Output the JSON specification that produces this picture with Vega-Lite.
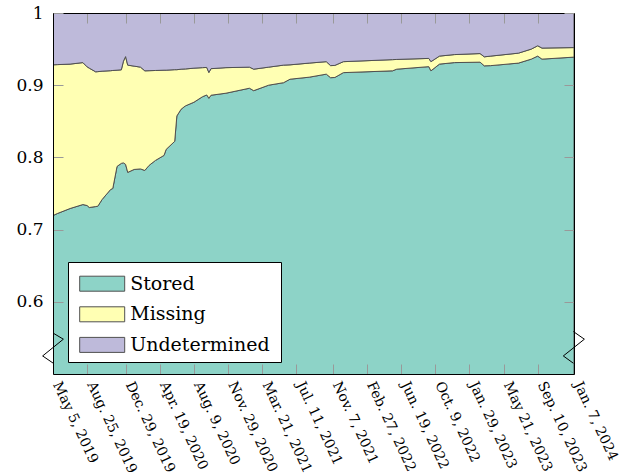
{
  "$schema": "https://vega.github.io/schema/vega-lite/v6.json",
  "width": 521,
  "height": 361,
  "autosize": {"type": "none"},
  "padding": {"left": 53, "top": 13, "right": 48, "bottom": 102},
  "background": "white",
  "config": {"view": {"stroke": null}, "font": "DejaVu Serif", "legend": {"strokeWidth": 1}},
  "data": {
    "values": [
      {"date": "2019-05-05", "Stored": 0.7194, "Missing": 0.2088, "Undetermined": 0.0718},
      {"date": "2019-05-19", "Stored": 0.7222, "Missing": 0.2063, "Undetermined": 0.0715},
      {"date": "2019-06-30", "Stored": 0.7292, "Missing": 0.2000, "Undetermined": 0.0708},
      {"date": "2019-08-11", "Stored": 0.7347, "Missing": 0.1966, "Undetermined": 0.0687},
      {"date": "2019-08-25", "Stored": 0.7333, "Missing": 0.1921, "Undetermined": 0.0746},
      {"date": "2019-09-01", "Stored": 0.7306, "Missing": 0.1930, "Undetermined": 0.0764},
      {"date": "2019-09-22", "Stored": 0.7319, "Missing": 0.1866, "Undetermined": 0.0815},
      {"date": "2019-09-29", "Stored": 0.7324, "Missing": 0.1864, "Undetermined": 0.0812},
      {"date": "2019-10-13", "Stored": 0.7417, "Missing": 0.1777, "Undetermined": 0.0806},
      {"date": "2019-11-10", "Stored": 0.7556, "Missing": 0.1645, "Undetermined": 0.0799},
      {"date": "2019-11-17", "Stored": 0.7569, "Missing": 0.1635, "Undetermined": 0.0796},
      {"date": "2019-12-01", "Stored": 0.7875, "Missing": 0.1333, "Undetermined": 0.0792},
      {"date": "2019-12-15", "Stored": 0.7917, "Missing": 0.1296, "Undetermined": 0.0787},
      {"date": "2019-12-22", "Stored": 0.7924, "Missing": 0.1409, "Undetermined": 0.0667},
      {"date": "2019-12-29", "Stored": 0.7903, "Missing": 0.1493, "Undetermined": 0.0604},
      {"date": "2020-01-05", "Stored": 0.7792, "Missing": 0.1486, "Undetermined": 0.0722},
      {"date": "2020-01-26", "Stored": 0.7833, "Missing": 0.1431, "Undetermined": 0.0736},
      {"date": "2020-02-16", "Stored": 0.7840, "Missing": 0.1410, "Undetermined": 0.0750},
      {"date": "2020-03-01", "Stored": 0.7819, "Missing": 0.1380, "Undetermined": 0.0801},
      {"date": "2020-03-15", "Stored": 0.7889, "Missing": 0.1312, "Undetermined": 0.0799},
      {"date": "2020-04-05", "Stored": 0.7958, "Missing": 0.1246, "Undetermined": 0.0796},
      {"date": "2020-05-03", "Stored": 0.8028, "Missing": 0.1180, "Undetermined": 0.0792},
      {"date": "2020-05-10", "Stored": 0.8111, "Missing": 0.1097, "Undetermined": 0.0792},
      {"date": "2020-06-07", "Stored": 0.8222, "Missing": 0.0993, "Undetermined": 0.0785},
      {"date": "2020-06-14", "Stored": 0.8574, "Missing": 0.0641, "Undetermined": 0.0785},
      {"date": "2020-06-28", "Stored": 0.8667, "Missing": 0.0555, "Undetermined": 0.0778},
      {"date": "2020-07-12", "Stored": 0.8713, "Missing": 0.0512, "Undetermined": 0.0775},
      {"date": "2020-08-09", "Stored": 0.8764, "Missing": 0.0472, "Undetermined": 0.0764},
      {"date": "2020-09-06", "Stored": 0.8840, "Missing": 0.0403, "Undetermined": 0.0757},
      {"date": "2020-09-20", "Stored": 0.8865, "Missing": 0.0381, "Undetermined": 0.0754},
      {"date": "2020-09-27", "Stored": 0.8819, "Missing": 0.0357, "Undetermined": 0.0824},
      {"date": "2020-10-04", "Stored": 0.8861, "Missing": 0.0368, "Undetermined": 0.0771},
      {"date": "2020-11-22", "Stored": 0.8889, "Missing": 0.0354, "Undetermined": 0.0757},
      {"date": "2021-02-07", "Stored": 0.8958, "Missing": 0.0292, "Undetermined": 0.0750},
      {"date": "2021-02-21", "Stored": 0.8924, "Missing": 0.0298, "Undetermined": 0.0778},
      {"date": "2021-04-11", "Stored": 0.9000, "Missing": 0.0250, "Undetermined": 0.0750},
      {"date": "2021-05-30", "Stored": 0.9035, "Missing": 0.0243, "Undetermined": 0.0722},
      {"date": "2021-06-20", "Stored": 0.9083, "Missing": 0.0199, "Undetermined": 0.0718},
      {"date": "2021-08-22", "Stored": 0.9111, "Missing": 0.0195, "Undetermined": 0.0694},
      {"date": "2021-10-17", "Stored": 0.9153, "Missing": 0.0173, "Undetermined": 0.0674},
      {"date": "2021-10-31", "Stored": 0.9104, "Missing": 0.0167, "Undetermined": 0.0729},
      {"date": "2021-11-14", "Stored": 0.9107, "Missing": 0.0167, "Undetermined": 0.0726},
      {"date": "2021-12-12", "Stored": 0.9174, "Missing": 0.0152, "Undetermined": 0.0674},
      {"date": "2022-05-22", "Stored": 0.9199, "Missing": 0.0155, "Undetermined": 0.0646},
      {"date": "2022-06-05", "Stored": 0.9222, "Missing": 0.0135, "Undetermined": 0.0643},
      {"date": "2022-09-18", "Stored": 0.9257, "Missing": 0.0114, "Undetermined": 0.0629},
      {"date": "2022-09-25", "Stored": 0.9199, "Missing": 0.0127, "Undetermined": 0.0674},
      {"date": "2022-10-23", "Stored": 0.9292, "Missing": 0.0111, "Undetermined": 0.0597},
      {"date": "2022-12-11", "Stored": 0.9313, "Missing": 0.0111, "Undetermined": 0.0576},
      {"date": "2023-03-05", "Stored": 0.9319, "Missing": 0.0119, "Undetermined": 0.0562},
      {"date": "2023-03-19", "Stored": 0.9268, "Missing": 0.0125, "Undetermined": 0.0607},
      {"date": "2023-04-09", "Stored": 0.9271, "Missing": 0.0132, "Undetermined": 0.0597},
      {"date": "2023-07-09", "Stored": 0.9306, "Missing": 0.0138, "Undetermined": 0.0556},
      {"date": "2023-08-20", "Stored": 0.9361, "Missing": 0.0139, "Undetermined": 0.0500},
      {"date": "2023-09-10", "Stored": 0.9403, "Missing": 0.0143, "Undetermined": 0.0454},
      {"date": "2023-09-24", "Stored": 0.9361, "Missing": 0.0153, "Undetermined": 0.0486},
      {"date": "2024-01-07", "Stored": 0.9389, "Missing": 0.0132, "Undetermined": 0.0479}
    ]
  },
  "layer": [
    {
      "transform": [
        {"fold": ["Stored", "Missing", "Undetermined"], "as": ["status", "share"]},
        {"calculate": "indexof(['Stored', 'Missing', 'Undetermined'], datum.status)", "as": "stackRank"}
      ],
      "mark": {"type": "area", "clip": true, "stroke": "#505050", "strokeWidth": 1, "opacity": 1, "interpolate": "linear"},
      "encoding": {
        "x": {
          "field": "date", "type": "temporal",
          "scale": {"type": "utc", "domain": [{"year": 2019, "month": "May", "date": 5, "utc": true}, {"year": 2024, "month": "Jan", "date": 7, "utc": true}]},
          "axis": {
            "orient": "bottom", "title": null, "grid": false, "zindex": 1,
            "values": [
              {"year": 2019, "month": "May", "date": 5, "utc": true},
              {"year": 2019, "month": "Aug", "date": 25, "utc": true},
              {"year": 2019, "month": "Dec", "date": 29, "utc": true},
              {"year": 2020, "month": "Apr", "date": 19, "utc": true},
              {"year": 2020, "month": "Aug", "date": 9, "utc": true},
              {"year": 2020, "month": "Nov", "date": 29, "utc": true},
              {"year": 2021, "month": "Mar", "date": 21, "utc": true},
              {"year": 2021, "month": "Jul", "date": 11, "utc": true},
              {"year": 2021, "month": "Nov", "date": 7, "utc": true},
              {"year": 2022, "month": "Feb", "date": 27, "utc": true},
              {"year": 2022, "month": "Jun", "date": 19, "utc": true},
              {"year": 2022, "month": "Oct", "date": 9, "utc": true},
              {"year": 2023, "month": "Jan", "date": 29, "utc": true},
              {"year": 2023, "month": "May", "date": 21, "utc": true},
              {"year": 2023, "month": "Sep", "date": 10, "utc": true},
              {"year": 2024, "month": "Jan", "date": 7, "utc": true}
            ],
            "labelExpr": "utcFormat(datum.value, '%b') + (utcFormat(datum.value, '%b') == 'May' ? ' ' : '. ') + utcFormat(datum.value, '%-d, %Y')",
            "labelAngle": 65, "labelAlign": "left", "labelBaseline": "middle",
            "labelPadding": 18, "labelOffset": 3, "labelFlush": false, "labelOverlap": false, "labelBound": false,
            "labelFont": "DejaVu Serif", "labelFontSize": 14, "labelColor": "black",
            "tickSize": -10, "tickColor": "#999999", "tickWidth": 1,
            "domainColor": "black", "domainWidth": 1
          }
        },
        "y": {
          "field": "share", "type": "quantitative", "stack": "zero",
          "scale": {"domain": [0.5, 1], "nice": false, "zero": false},
          "axis": {
            "orient": "left", "title": null, "grid": false, "zindex": 1,
            "values": [0.6, 0.7, 0.8, 0.9, 1], "format": "~g",
            "labelPadding": 20, "labelFont": "DejaVu Serif", "labelFontSize": 17, "labelColor": "black",
            "tickSize": -10, "tickColor": "#999999", "tickWidth": 1,
            "domainColor": "black", "domainWidth": 1
          }
        },
        "color": {
          "field": "status", "type": "nominal",
          "sort": ["Stored", "Missing", "Undetermined"],
          "scale": {"domain": ["Stored", "Missing", "Undetermined"], "range": ["#8dd3c7", "#ffffb3", "#bebada"]},
          "legend": {
            "title": null, "orient": "none", "legendX": 15, "legendY": 249,
            "fillColor": "white", "strokeColor": "black", "cornerRadius": 0,
            "padding": 6.2, "rowPadding": 4.6,
            "symbolType": "M-0.667,-0.5H2.333V0.5H-0.667Z M12.2,0", "symbolSize": 900,
            "symbolStrokeColor": "#505050", "symbolStrokeWidth": 1, "symbolOpacity": 1,
            "labelOffset": 25, "labelFont": "DejaVu Serif", "labelFontSize": 19, "labelColor": "black",
            "labelLimit": 400
          }
        },
        "order": {"field": "stackRank", "type": "quantitative", "sort": "ascending"}
      }
    },
    {
      "mark": {"type": "point", "opacity": 0},
      "encoding": {
        "x": {
          "field": "date", "type": "temporal",
          "scale": {"type": "utc", "domain": [{"year": 2019, "month": "May", "date": 5, "utc": true}, {"year": 2024, "month": "Jan", "date": 7, "utc": true}]},
          "axis": {
            "orient": "top", "title": null, "grid": false, "labels": false, "zindex": 1,
            "values": [
              {"year": 2019, "month": "May", "date": 5, "utc": true},
              {"year": 2019, "month": "Aug", "date": 25, "utc": true},
              {"year": 2019, "month": "Dec", "date": 29, "utc": true},
              {"year": 2020, "month": "Apr", "date": 19, "utc": true},
              {"year": 2020, "month": "Aug", "date": 9, "utc": true},
              {"year": 2020, "month": "Nov", "date": 29, "utc": true},
              {"year": 2021, "month": "Mar", "date": 21, "utc": true},
              {"year": 2021, "month": "Jul", "date": 11, "utc": true},
              {"year": 2021, "month": "Nov", "date": 7, "utc": true},
              {"year": 2022, "month": "Feb", "date": 27, "utc": true},
              {"year": 2022, "month": "Jun", "date": 19, "utc": true},
              {"year": 2022, "month": "Oct", "date": 9, "utc": true},
              {"year": 2023, "month": "Jan", "date": 29, "utc": true},
              {"year": 2023, "month": "May", "date": 21, "utc": true},
              {"year": 2023, "month": "Sep", "date": 10, "utc": true},
              {"year": 2024, "month": "Jan", "date": 7, "utc": true}
            ],
            "tickSize": -10, "tickColor": "#999999", "tickWidth": 1,
            "domainColor": "black", "domainWidth": 1
          }
        },
        "y": {
          "field": "Stored", "type": "quantitative",
          "scale": {"domain": [0.5, 1], "nice": false, "zero": false},
          "axis": {
            "orient": "right", "title": null, "grid": false, "labels": false, "zindex": 1,
            "values": [0.6, 0.7, 0.8, 0.9, 1],
            "tickSize": -10, "tickColor": "#999999", "tickWidth": 1,
            "domainColor": "black", "domainWidth": 1
          }
        }
      }
    },
    {
      "data": {
        "values": [
          {"date": "2019-05-06", "value": 0.5565, "side": "left", "k": 1},
          {"date": "2019-06-08", "value": 0.5482, "side": "left", "k": 2},
          {"date": "2019-04-01", "value": 0.525, "side": "left", "k": 3},
          {"date": "2019-05-06", "value": 0.5149, "side": "left", "k": 4},
          {"date": "2024-01-05", "value": 0.5588, "side": "right", "k": 1},
          {"date": "2024-02-10", "value": 0.5482, "side": "right", "k": 2},
          {"date": "2023-12-03", "value": 0.525, "side": "right", "k": 3},
          {"date": "2024-01-05", "value": 0.5149, "side": "right", "k": 4}
        ]
      },
      "mark": {"type": "line", "clip": false, "color": "black", "strokeWidth": 1},
      "encoding": {
        "x": {"field": "date", "type": "temporal", "scale": {"type": "utc", "domain": [{"year": 2019, "month": "May", "date": 5, "utc": true}, {"year": 2024, "month": "Jan", "date": 7, "utc": true}]}, "axis": null},
        "y": {"field": "value", "type": "quantitative", "scale": {"domain": [0.5, 1], "nice": false, "zero": false}, "axis": null},
        "detail": {"field": "side", "type": "nominal"},
        "order": {"field": "k", "type": "quantitative"}
      }
    }
  ],
  "resolve": {"axis": {"x": "independent", "y": "independent"}}
}
